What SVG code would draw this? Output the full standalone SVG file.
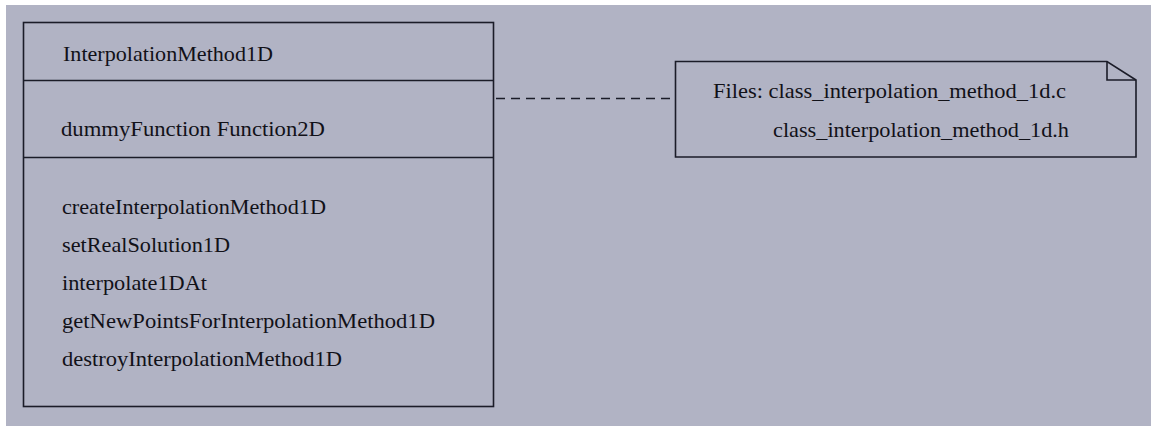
<svg xmlns="http://www.w3.org/2000/svg" width="1151" height="426" viewBox="0 0 1151 426">
  <style>
    .frame { fill: none; stroke: #1b1c28; stroke-width: 1.6; }
    .label { font-family: 'Liberation Serif', 'Times New Roman', serif; font-size: 22px; fill: #111118; }
    .link { stroke: #1b1c28; stroke-width: 1.5; stroke-dasharray: 9 6; fill: none; }
  </style>
  <rect x="0" y="0" width="1151" height="426" fill="#ffffff"/>
  <rect x="6" y="5" width="1145" height="421" fill="#b1b3c4"/>

  <!-- class box: name, attributes, operations -->
  <g id="class-InterpolationMethod1D">
    <rect class="frame" x="23.5" y="22.5" width="470" height="384"/>
    <line class="frame" x1="23.5" y1="80.5" x2="493.5" y2="80.5"/>
    <line class="frame" x1="23.5" y1="157.5" x2="493.5" y2="157.5"/>
    <text class="label" x="63" y="61" textLength="210" lengthAdjust="spacingAndGlyphs">InterpolationMethod1D</text>
    <text class="label" x="61" y="136" textLength="264" lengthAdjust="spacingAndGlyphs">dummyFunction Function2D</text>
    <text class="label" x="62" y="214" textLength="264" lengthAdjust="spacingAndGlyphs">createInterpolationMethod1D</text>
    <text class="label" x="62" y="252" textLength="168" lengthAdjust="spacingAndGlyphs">setRealSolution1D</text>
    <text class="label" x="62" y="290" textLength="145" lengthAdjust="spacingAndGlyphs">interpolate1DAt</text>
    <text class="label" x="62" y="328" textLength="373" lengthAdjust="spacingAndGlyphs">getNewPointsForInterpolationMethod1D</text>
    <text class="label" x="62" y="366" textLength="280" lengthAdjust="spacingAndGlyphs">destroyInterpolationMethod1D</text>
  </g>

  <!-- note listing the source files -->
  <g id="note-files">
    <path class="frame" d="M675.5,61.5 H1107 L1136,80 V157 H675.5 Z"/>
    <path class="frame" d="M1107,61.5 V80 H1136"/>
    <text class="label" x="713" y="98" textLength="353" lengthAdjust="spacingAndGlyphs">Files: class_interpolation_method_1d.c</text>
    <text class="label" x="773" y="137" textLength="296" lengthAdjust="spacingAndGlyphs">class_interpolation_method_1d.h</text>
  </g>

  <!-- connectors -->
  <g id="connectors">
    <line class="link" x1="496" y1="98.5" x2="673" y2="98.5"/>
  </g>
</svg>
